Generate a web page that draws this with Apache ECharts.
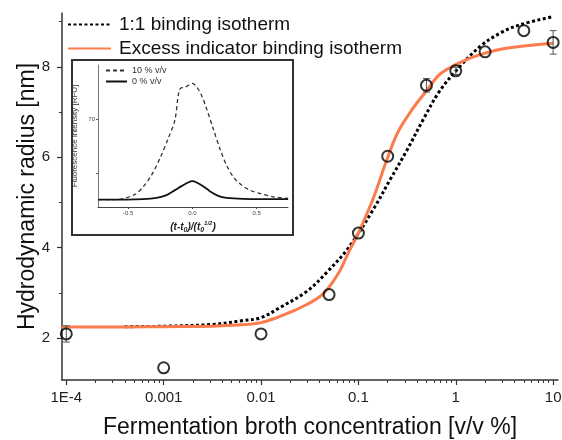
<!DOCTYPE html>
<html>
<head>
<meta charset="utf-8">
<script src="https://cdn.jsdelivr.net/npm/echarts@6/dist/echarts.min.js"></script>
<style>
  html, body { margin: 0; padding: 0; background: #fff; }
  #chart { width: 562px; height: 440px; }
</style>
</head>
<body>
<div id="chart"></div>
<script>
// measured points: concentration [v/v %] and hydrodynamic radius [nm]
var pointConc = [0.0001, 0.001, 0.01, 0.05, 0.1, 0.2, 0.5, 1, 2, 5, 10];
var pointRadius = [2.09, 1.34, 2.09, 2.96, 4.32, 6.02, 7.59, 7.91, 8.33, 8.8, 8.54];
var pointErr = [0.18, 0, 0, 0, 0, 0, 0.15, 0.08, 0, 0, 0.26];

// fitted curves (x = log10 of concentration)
var oneToOneLogX = [-3.4, -3, -2.5, -2.2, -2.0, -1.8, -1.53, -1.33, -1.1, -0.84, -0.67, -0.5, -0.33, -0.17, 0.01, 0.25, 0.46, 0.66, 1.0];
var oneToOneY = [2.25, 2.26, 2.3, 2.38, 2.45, 2.68, 3.03, 3.44, 4.0, 4.87, 5.52, 6.16, 6.85, 7.45, 7.93, 8.45, 8.75, 8.93, 9.11];
var excessLogX = [-4.05, -3.5, -3, -2.5, -2.2, -2.0, -1.85, -1.7, -1.53, -1.36, -1.2, -1.1, -1.0, -0.84, -0.72, -0.6, -0.45, -0.3, -0.16, 0.05, 0.25, 0.52, 1.0];
var excessY = [2.24, 2.24, 2.25, 2.26, 2.29, 2.34, 2.44, 2.57, 2.74, 2.98, 3.45, 3.9, 4.32, 5.13, 5.87, 6.53, 7.05, 7.47, 7.84, 8.1, 8.27, 8.41, 8.52];

// axis ticks
var xTickLog = [-4, -3, -2, -1, 0, 1];
var xTickLabels = ['1E-4', '0.001', '0.01', '0.1', '1', '10'];
var yTicks = [2, 4, 6, 8];
var yMinorTicks = [3, 5, 7, 9];

// inset: fluorescence traces
var insetDashX = [-0.733, -0.59, -0.448, -0.383, -0.318, -0.253, -0.188, -0.136, -0.11, -0.09, -0.06, -0.03, 0.0, 0.033, 0.071, 0.11, 0.162, 0.214, 0.266, 0.318, 0.383, 0.448, 0.526, 0.63, 0.746];
var insetDashY = [55.0, 55.0, 55.95, 57.38, 59.57, 62.69, 66.44, 69.87, 74.5, 75.9, 76.0, 76.4, 76.75, 76.11, 74.55, 72.05, 68.31, 64.56, 61.44, 59.26, 57.7, 56.76, 56.14, 55.51, 55.2];
var insetSolidX = [-0.733, -0.513, -0.383, -0.279, -0.201, -0.136, -0.084, -0.033, 0.001, 0.033, 0.084, 0.136, 0.201, 0.266, 0.396, 0.746];
var insetSolidY = [55.0, 55.0, 55.07, 55.32, 55.82, 56.76, 57.51, 58.2, 58.45, 58.2, 57.51, 56.57, 55.7, 55.32, 55.14, 55.07];
var insetXTicks = [-0.5, 0, 0.5];
var insetYTicks = [60, 70];
var insetYLabels = [70];

function pairs(xs, ys) {
    var out = [];
    for (var i = 0; i < xs.length; i++) out.push([xs[i], ys[i]]);
    return out;
}

var font = "'Liberation Sans', Arial, sans-serif";
var axisColor = '#333';
var orange = '#fb7b4d';

var minorLog = [];
for (var d = -4; d < 1; d++) {
    for (var k = 2; k <= 9; k++) minorLog.push(d + Math.log10(k));
}

var points = [];
var errBars = [];
for (var i = 0; i < pointConc.length; i++) {
    var lx = Math.log10(pointConc[i]);
    points.push([lx, pointRadius[i]]);
    if (pointErr[i] > 0) errBars.push([lx, pointRadius[i] - pointErr[i], pointRadius[i] + pointErr[i]]);
}

var chart = echarts.init(document.getElementById('chart'), null, { renderer: 'canvas' });

var hiddenSymbol = { color: 'rgba(0,0,0,0)', borderWidth: 0, opacity: 0 };

var option = {
    backgroundColor: '#fff',
    animation: false,
    textStyle: { fontFamily: font },
    grid: [
        { left: 62, top: 13, right: 4, bottom: 60, outerBoundsMode: 'none' },
        { left: 98, top: 65, width: 190, height: 142, outerBoundsMode: 'none' }
    ],
    legend: [{
        orient: 'vertical',
        left: 67,
        top: 15,
        padding: 0,
        itemWidth: 43,
        itemHeight: 14,
        itemGap: 5,
        itemStyle: hiddenSymbol,
        data: ['1:1 binding isotherm', 'Excess indicator binding isotherm'],
        textStyle: { fontSize: 19, color: '#111', fontFamily: font, padding: [0, 0, 0, 3] }
    }, {
        orient: 'vertical',
        left: 105,
        top: 66,
        padding: 0,
        itemWidth: 21,
        itemHeight: 8,
        itemGap: 2,
        itemStyle: hiddenSymbol,
        data: ['10 % v/v', '0 % v/v'],
        textStyle: { fontSize: 9, color: '#333', fontFamily: font }
    }],
    xAxis: [{
        gridIndex: 0,
        type: 'value',
        min: -4.044,
        max: 1.05,
        position: 'bottom',
        name: 'Fermentation broth concentration [v/v %]',
        nameLocation: 'middle',
        nameGap: 36,
        nameMoveOverlap: false,
        nameTextStyle: { fontSize: 23, color: '#111' },
        axisLine: { onZero: false, lineStyle: { color: axisColor, width: 1.5 } },
        axisTick: { customValues: xTickLog, length: 5, lineStyle: { color: axisColor, width: 1.2 } },
        axisLabel: {
            customValues: xTickLog,
            margin: 10,
            fontSize: 15,
            color: '#222',
            formatter: function(v) {
                var idx = xTickLog.indexOf(Math.round(v));
                return idx >= 0 ? xTickLabels[idx] : '';
            }
        },
        splitLine: { show: false }
    }, {
        gridIndex: 0,
        type: 'value',
        min: -4.044,
        max: 1.05,
        position: 'bottom',
        axisLine: { show: false, onZero: false },
        axisTick: { customValues: minorLog, length: 3, lineStyle: { color: axisColor, width: 1 } },
        axisLabel: { show: false },
        splitLine: { show: false }
    }, {
        gridIndex: 1,
        type: 'value',
        min: -0.735,
        max: 0.745,
        position: 'bottom',
        name: '{t|(t-t}{sub|0}{t|)/(t}{sub|0}{sup|1/2}{t|)}',
        nameLocation: 'middle',
        nameGap: 13,
        nameMoveOverlap: false,
        nameTextStyle: {
            color: '#222',
            rich: {
                t: { fontSize: 10, fontStyle: 'italic', fontWeight: 'bold', color: '#222', lineHeight: 14 },
                sub: { fontSize: 7, fontStyle: 'italic', fontWeight: 'bold', color: '#222', verticalAlign: 'bottom', lineHeight: 14 },
                sup: { fontSize: 6, fontStyle: 'italic', fontWeight: 'bold', color: '#222', verticalAlign: 'top', lineHeight: 14 }
            }
        },
        axisLine: { onZero: false, lineStyle: { color: '#444', width: 1 } },
        axisTick: { customValues: insetXTicks, length: 2, lineStyle: { color: '#444' } },
        axisLabel: {
            customValues: insetXTicks,
            margin: 3,
            fontSize: 6,
            color: '#444',
            formatter: function(v) { return v.toFixed(1); }
        },
        splitLine: { show: false }
    }],
    yAxis: [{
        gridIndex: 0,
        type: 'value',
        min: 1.07,
        max: 9.19,
        position: 'left',
        name: 'Hydrodynamic radius [nm]',
        nameLocation: 'middle',
        nameGap: 23,
        nameMoveOverlap: false,
        nameTextStyle: { fontSize: 23, color: '#111' },
        axisLine: { show: true, onZero: false, lineStyle: { color: axisColor, width: 1.5 } },
        axisTick: { show: true, customValues: yTicks, length: 5, lineStyle: { color: axisColor, width: 1.2 } },
        axisLabel: { customValues: yTicks, margin: 12, fontSize: 15, color: '#222' },
        splitLine: { show: false }
    }, {
        gridIndex: 0,
        type: 'value',
        min: 1.07,
        max: 9.19,
        position: 'left',
        axisLine: { show: false, onZero: false },
        axisTick: { show: true, customValues: yMinorTicks, length: 3, lineStyle: { color: axisColor, width: 1 } },
        axisLabel: { show: false },
        splitLine: { show: false }
    }, {
        gridIndex: 1,
        type: 'value',
        min: 53.6,
        max: 80.2,
        position: 'left',
        name: 'Fluorescence intensity [RFU]',
        nameLocation: 'middle',
        nameGap: 19,
        nameMoveOverlap: false,
        nameTextStyle: { fontSize: 8, color: '#333' },
        axisLine: { show: true, onZero: false, lineStyle: { color: '#555', width: 0.8 } },
        axisTick: { show: true, customValues: insetYTicks, length: 2, lineStyle: { color: '#555' } },
        axisLabel: { customValues: insetYLabels, margin: 3, fontSize: 6, color: '#444' },
        splitLine: { show: false }
    }],
    series: [{
        name: '1:1 binding isotherm',
        type: 'line',
        xAxisIndex: 0,
        yAxisIndex: 0,
        data: pairs(oneToOneLogX, oneToOneY),
        smooth: 0.35,
        symbol: 'none',
        lineStyle: { color: '#000', width: 3, type: [3, 2.5], cap: 'butt' },
        itemStyle: { color: '#000' },
        z: 2
    }, {
        name: 'Excess indicator binding isotherm',
        type: 'line',
        xAxisIndex: 0,
        yAxisIndex: 0,
        data: pairs(excessLogX, excessY),
        smooth: 0.35,
        symbol: 'none',
        lineStyle: { color: orange, width: 3 },
        itemStyle: { color: orange },
        z: 3
    }, {
        name: 'error',
        type: 'custom',
        xAxisIndex: 0,
        yAxisIndex: 0,
        clip: false,
        data: errBars,
        renderItem: function(params, api) {
            var lo = api.coord([api.value(0), api.value(1)]);
            var hi = api.coord([api.value(0), api.value(2)]);
            var w = 3.5;
            var st = { stroke: '#555', lineWidth: 1 };
            return {
                type: 'group',
                children: [
                    { type: 'line', shape: { x1: lo[0], y1: lo[1], x2: hi[0], y2: hi[1] }, style: st },
                    { type: 'line', shape: { x1: lo[0] - w, y1: lo[1], x2: lo[0] + w, y2: lo[1] }, style: st },
                    { type: 'line', shape: { x1: hi[0] - w, y1: hi[1], x2: hi[0] + w, y2: hi[1] }, style: st }
                ]
            };
        },
        z: 4
    }, {
        name: 'data',
        type: 'scatter',
        xAxisIndex: 0,
        yAxisIndex: 0,
        data: points,
        symbol: 'circle',
        symbolSize: 11,
        itemStyle: { color: 'rgba(0,0,0,0)', borderColor: '#000', borderWidth: 2 },
        z: 5
    }, {
        name: '10 % v/v',
        type: 'line',
        xAxisIndex: 2,
        yAxisIndex: 2,
        data: pairs(insetDashX, insetDashY),
        smooth: 0.3,
        symbol: 'none',
        lineStyle: { color: '#333', width: 1.3, type: [4, 3] },
        itemStyle: { color: '#333' }
    }, {
        name: '0 % v/v',
        type: 'line',
        xAxisIndex: 2,
        yAxisIndex: 2,
        data: pairs(insetSolidX, insetSolidY),
        smooth: 0.3,
        symbol: 'none',
        lineStyle: { color: '#111', width: 1.8 },
        itemStyle: { color: '#111' }
    }],
    graphic: [{
        type: 'rect',
        shape: { x: 72, y: 60, width: 221, height: 175 },
        style: { fill: null, stroke: '#333', lineWidth: 2 },
        z: 100
    }]
};

chart.setOption(option);
window.addEventListener('resize', function() {
    chart.resize();
});
</script>
</body>
</html>
